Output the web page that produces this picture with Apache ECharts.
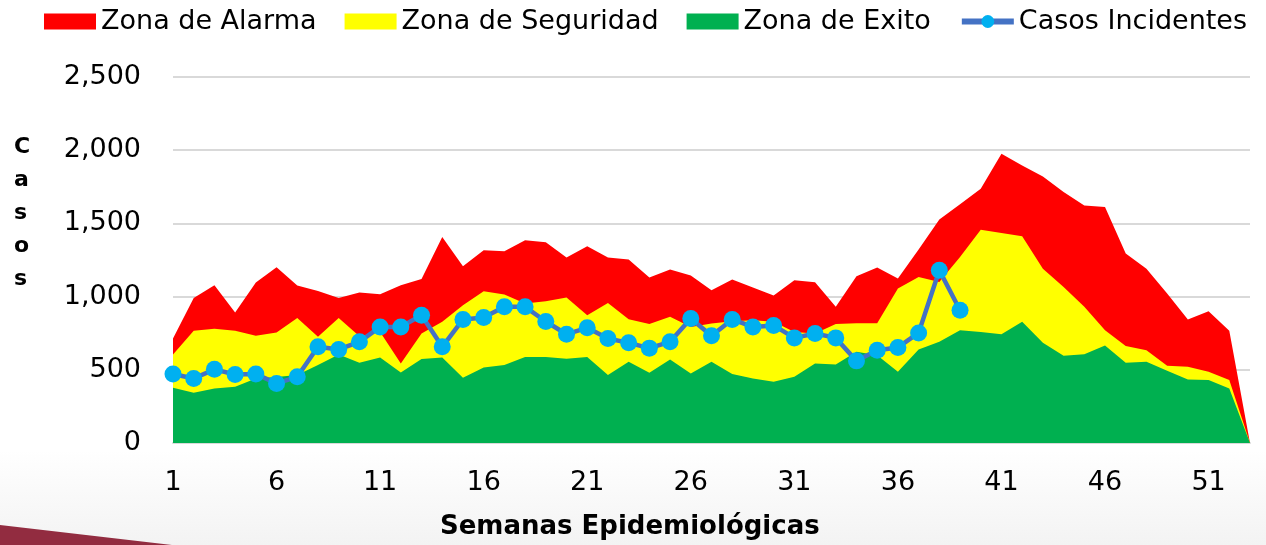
<!DOCTYPE html>
<html>
<head>
<meta charset="utf-8">
<title>Casos por semana epidemiológica</title>
<script src="https://cdn.jsdelivr.net/npm/echarts@6/dist/echarts.min.js"></script>
<style>
html,body{margin:0;padding:0;background:#fff;}
#chart{width:1266px;height:545px;}
</style>
</head>
<body>
<div id="chart"></div>
<script>
// semanas 1..53
var semanas = [];
for (var w = 1; w <= 53; w++) semanas.push(String(w));

var zonaAlarma = [714, 991, 1078, 891, 1096, 1200, 1075, 1039, 991, 1028, 1016, 1078, 1121,
  1407, 1207, 1316, 1310, 1385, 1371, 1267, 1344, 1267, 1253, 1130, 1185, 1144,
  1044, 1117, 1062, 1007, 1112, 1098, 930, 1139, 1198, 1123, 1321, 1526, 1630,
  1737, 1976, 1896, 1821, 1714, 1623, 1612, 1294, 1191, 1021, 844, 900, 766, 0];

var zonaSeguridad = [605, 766, 780, 766, 732, 755, 853, 725, 853, 730, 759, 543, 748,
  828, 941, 1037, 1014, 953, 969, 994, 873, 957, 846, 812, 862, 793,
  816, 832, 839, 828, 759, 748, 812, 818, 818, 1055, 1134, 1100, 1271,
  1457, 1435, 1412, 1191, 1066, 930, 771, 662, 634, 527, 520, 486, 430, 0];

var zonaExito = [377, 343, 373, 384, 441, 450, 464, 532, 605, 548, 584, 482, 573,
  584, 446, 516, 532, 587, 587, 575, 587, 464, 555, 480, 571, 475,
  555, 471, 441, 418, 452, 543, 537, 623, 600, 486, 639, 691, 771,
  759, 743, 828, 684, 596, 607, 666, 548, 555, 493, 434, 430, 373, 0];

var casosIncidentes = [471, 441, 503, 468, 471, 407, 452, 657, 639, 691, 793, 793, 873,
  657, 844, 857, 930, 930, 830, 743, 787, 714, 684, 648, 691, 850,
  732, 844, 793, 803, 718, 748, 718, 561, 634, 653, 752, 1180, 907];

var yTicks = [0, 500, 1000, 1500, 2000, 2500];

var fuente = 'DejaVu Sans';
var myChart = echarts.init(document.getElementById('chart'));

function zona(nombre, datos, color) {
  return {
    name: nombre,
    type: 'line',
    data: datos,
    symbol: 'none',
    lineStyle: { width: 0 },
    areaStyle: { color: color, opacity: 1 },
    itemStyle: { color: color },
    silent: true
  };
}

var option = {
  backgroundColor: '#fff',
  animation: false,
  graphic: [
    {
      type: 'rect', z: -10, silent: true,
      shape: { x: 0, y: 450, width: 1266, height: 95 },
      style: {
        fill: new echarts.graphic.LinearGradient(0, 0, 0, 1, [
          { offset: 0, color: '#ffffff' }, { offset: 1, color: '#f3f3f3' }
        ])
      }
    },
    {
      type: 'polygon', z: -9, silent: true,
      shape: { points: [[0, 525], [172, 545], [0, 545]] },
      style: { fill: '#922c40' }
    },
    {
      type: 'text', left: 14, top: 131,
      style: {
        text: 'C\na\ns\no\ns', fill: '#000', font: 'bold 22px ' + fuente,
        align: 'center', lineHeight: 33, width: 22
      }
    },
    {
      type: 'text', left: 440, top: 514,
      style: {
        text: 'Semanas Epidemiológicas', fill: '#000',
        font: 'bold 26px ' + fuente
      }
    }
  ],
  legend: {
    top: 8,
    left: 44,
    width: 1222,
    itemWidth: 52,
    itemHeight: 16,
    itemGap: 28,
    padding: 0,
    textStyle: { fontFamily: fuente, fontSize: 27, color: '#000' },
    data: [
      { name: 'Zona de Alarma', icon: 'rect' },
      { name: 'Zona de Seguridad', icon: 'rect' },
      { name: 'Zona de Exito', icon: 'rect' },
      { name: 'Casos Incidentes', lineStyle: { width: 6, color: '#4472c4' } }
    ]
  },
  grid: { left: 173, right: 16, top: 77, bottom: 102, containLabel: false },
  xAxis: {
    type: 'category',
    data: semanas,
    boundaryGap: false,
    axisLine: { show: true, lineStyle: { color: '#d9d9d9', width: 2 } },
    axisTick: { show: false },
    axisLabel: {
      interval: 4, margin: 26,
      fontFamily: fuente, fontSize: 27, color: '#000'
    }
  },
  yAxis: {
    type: 'value',
    min: yTicks[0], max: yTicks[yTicks.length - 1], interval: 500,
    axisLine: { show: false },
    axisTick: { show: false },
    splitLine: { lineStyle: { color: '#d9d9d9', width: 2 } },
    axisLabel: {
      margin: 32,
      fontFamily: fuente, fontSize: 27, color: '#000',
      formatter: function (v) { return v.toLocaleString('en-US'); }
    }
  },
  series: [
    zona('Zona de Alarma', zonaAlarma, '#ff0000'),
    zona('Zona de Seguridad', zonaSeguridad, '#ffff00'),
    zona('Zona de Exito', zonaExito, '#00b050'),
    {
      name: 'Casos Incidentes',
      type: 'line',
      data: casosIncidentes,
      symbol: 'circle',
      symbolSize: 17,
      showAllSymbol: true,
      lineStyle: { color: '#4472c4', width: 4.5 },
      itemStyle: { color: '#00b0f0', borderWidth: 0 },
      z: 5
    }
  ]
};

myChart.setOption(option);
</script>
</body>
</html>
